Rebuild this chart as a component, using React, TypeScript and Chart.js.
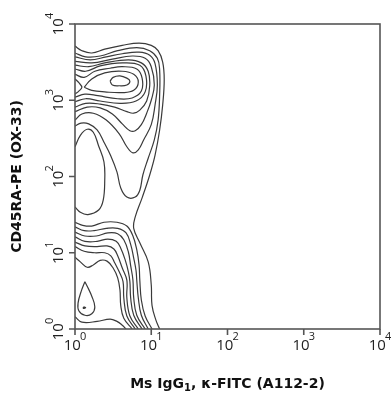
import { useEffect, useRef } from "react";
import { Chart, registerables } from "chart.js";

Chart.register(...registerables);

// Axis ticks (log10 decades) and labels
const xTickValues = [0, 1, 2, 3, 4];
const yTickValues = [0, 1, 2, 3, 4];
const tickBase = "10";
const tickExponents = ["0", "1", "2", "3", "4"];
const xTitleMain = "Ms IgG";
const xTitleSub = "1";
const xTitleRest = ", κ-FITC (A112-2)";
const yTitle = "CD45RA-PE (OX-33)";

// Contour lines, [log10 FITC, log10 PE]
const contourC1 = [[0,3.71],[0.09,3.65],[0.22,3.62],[0.39,3.67],[0.62,3.72],[0.84,3.75],[1.00,3.72],[1.09,3.65],[1.15,3.50],[1.17,3.27],[1.15,2.94],[1.11,2.61],[1.05,2.28],[0.98,2.02],[0.88,1.72],[0.79,1.47],[0.77,1.32],[0.85,1.13],[0.96,0.88],[1.00,0.58],[1.01,0.31],[1.06,0.12],[1.11,0]];
const contourD4 = [[0,3.62],[0.14,3.57],[0.33,3.58],[0.56,3.65],[0.81,3.69],[0.98,3.65],[1.08,3.55],[1.11,3.40],[1.11,3.07],[1.09,2.74],[1.04,2.48],[0.96,2.24],[0.89,2.02],[0.85,1.82],[0.79,1.73],[0.68,1.73],[0.60,1.85],[0.55,2.06],[0.47,2.27],[0.38,2.45],[0.29,2.61],[0.18,2.69],[0.08,2.70],[0,2.66]];
const contourD3 = [[0,3.57],[0.20,3.53],[0.41,3.57],[0.62,3.61],[0.84,3.63],[0.98,3.59],[1.05,3.48],[1.08,3.20],[1.05,2.94],[1.00,2.68],[0.90,2.48],[0.83,2.35],[0.76,2.31],[0.68,2.39],[0.58,2.56],[0.41,2.74],[0.24,2.83],[0.09,2.82],[0,2.74]];
const contourD2 = [[0,3.51],[0.22,3.49],[0.49,3.54],[0.75,3.58],[0.92,3.55],[1.00,3.44],[1.04,3.20],[1.00,3.00],[0.94,2.83],[0.87,2.68],[0.79,2.60],[0.72,2.60],[0.62,2.69],[0.49,2.82],[0.33,2.90],[0.16,2.91],[0,2.85]];
const contourD1 = [[0,3.46],[0.18,3.44],[0.39,3.49],[0.70,3.53],[0.87,3.49],[0.96,3.38],[0.98,3.19],[0.94,2.99],[0.85,2.87],[0.77,2.83],[0.68,2.85],[0.52,2.91],[0.33,2.95],[0.14,2.96],[0,2.91]];
const contourE2 = [[0,3.41],[0.14,3.38],[0.33,3.45],[0.62,3.49],[0.85,3.46],[0.93,3.32],[0.92,3.11],[0.80,2.99],[0.59,2.96],[0.33,2.99],[0.14,3.02],[0,2.98]];
const contourE1 = [[0,3.34],[0.12,3.30],[0.26,3.38],[0.46,3.42],[0.62,3.44],[0.81,3.41],[0.88,3.29],[0.87,3.12],[0.75,3.03],[0.56,3.02],[0.30,3.06],[0.13,3.08],[0,3.04]];
const contourR2 = [[0.12,3.17],[0.22,3.28],[0.39,3.36],[0.62,3.38],[0.77,3.34],[0.83,3.24],[0.77,3.13],[0.62,3.10],[0.39,3.11],[0.22,3.13],[0.12,3.17]];
const contourR1 = [[0.46,3.25],[0.50,3.30],[0.59,3.32],[0.68,3.29],[0.72,3.25],[0.68,3.20],[0.58,3.19],[0.49,3.20],[0.46,3.25]];
const contourL1 = [[0,3.28],[0.05,3.23],[0.09,3.17],[0.05,3.12],[0,3.08]];
const contourLobe = [[0,2.39],[0.07,2.54],[0.16,2.62],[0.24,2.58],[0.31,2.40],[0.38,2.19],[0.39,1.95],[0.37,1.69],[0.31,1.56],[0.17,1.50],[0.07,1.53],[0,1.60]];
const contourG1 = [[0,1.40],[0.10,1.36],[0.22,1.35],[0.38,1.40],[0.55,1.40],[0.68,1.35],[0.76,1.22],[0.81,1.04],[0.84,0.84],[0.85,0.64],[0.87,0.38],[0.92,0.17],[1.01,0]];
const contourG2 = [[0,1.34],[0.12,1.29],[0.25,1.29],[0.41,1.32],[0.56,1.32],[0.67,1.26],[0.73,1.11],[0.77,0.93],[0.80,0.77],[0.81,0.64],[0.83,0.41],[0.87,0.18],[0.96,0]];
const contourG3 = [[0,1.27],[0.13,1.22],[0.28,1.22],[0.43,1.26],[0.56,1.25],[0.64,1.17],[0.70,1.01],[0.73,0.83],[0.76,0.64],[0.77,0.41],[0.81,0.18],[0.92,0]];
const contourG4 = [[0,1.21],[0.13,1.15],[0.29,1.15],[0.43,1.18],[0.54,1.15],[0.60,1.06],[0.66,0.90],[0.70,0.75],[0.72,0.62],[0.73,0.41],[0.77,0.18],[0.88,0]];
const contourG5 = [[0,1.14],[0.13,1.09],[0.29,1.08],[0.42,1.09],[0.51,1.05],[0.56,0.96],[0.62,0.80],[0.68,0.64],[0.68,0.41],[0.72,0.17],[0.83,0]];
const contourG6 = [[0,1.08],[0.12,1.02],[0.26,1.00],[0.39,1.00],[0.47,0.96],[0.52,0.87],[0.58,0.75],[0.63,0.62],[0.64,0.41],[0.68,0.17],[0.79,0]];
const contourG7 = [[0,0.94],[0.07,0.88],[0.16,0.81],[0.24,0.84],[0.33,0.90],[0.42,0.89],[0.50,0.80],[0.56,0.67],[0.59,0.51],[0.60,0.31],[0.64,0.14],[0.75,0]];
const contourH = [[0,0.16],[0.09,0.09],[0.29,0.10],[0.46,0.13],[0.55,0.10],[0.62,0.05],[0.67,0]];
const contourT = [[0.13,0.62],[0.08,0.49],[0.04,0.34],[0.05,0.24],[0.13,0.18],[0.22,0.20],[0.26,0.29],[0.22,0.43],[0.17,0.54],[0.13,0.62]];
const contourDot = [[0.11,0.29],[0.14,0.28],[0.11,0.27],[0.11,0.29]];

const contours = [
  contourC1, contourD4, contourD3, contourD2, contourD1, contourE2, contourE1,
  contourR2, contourR1, contourL1, contourLobe,
  contourG1, contourG2, contourG3, contourG4, contourG5, contourG6, contourG7,
  contourH, contourT, contourDot,
];

const TICK_FONT = '"Open Sans", "DejaVu Sans", sans-serif';
const TITLE_FONT = '"DejaVu Sans", "Open Sans", sans-serif';

type Part = { t: string; size: number; dy: number; dx?: number; bold?: boolean; family: string };

function drawRich(ctx: CanvasRenderingContext2D, parts: Part[], cx: number, baseline: number) {
  const fontOf = (p: Part) => `${p.bold ? "bold " : ""}${p.size}px ${p.family}`;
  const widths = parts.map((p) => {
    ctx.font = fontOf(p);
    return ctx.measureText(p.t).width + (p.dx || 0);
  });
  const total = widths.reduce((a, b) => a + b, 0);
  let x = cx - total / 2;
  ctx.textAlign = "left";
  ctx.textBaseline = "alphabetic";
  parts.forEach((p, i) => {
    ctx.font = fontOf(p);
    ctx.fillText(p.t, x + (p.dx || 0), baseline + p.dy);
    x += widths[i];
  });
}

const framePlugin = {
  id: "frameAndLabels",
  afterDatasetsDraw(chart: any) {
    const { ctx, chartArea: a, scales } = chart;
    const xs = scales.x;
    const ys = scales.y;
    ctx.save();
    ctx.strokeStyle = "#555";
    ctx.lineWidth = 1.6;
    ctx.strokeRect(a.left, a.top, a.right - a.left, a.bottom - a.top);
    ctx.beginPath();
    xTickValues.forEach((v) => {
      const x = xs.getPixelForValue(v);
      ctx.moveTo(x, a.bottom);
      ctx.lineTo(x, a.bottom + 6);
    });
    yTickValues.forEach((v) => {
      const y = ys.getPixelForValue(v);
      ctx.moveTo(a.left - 6, y);
      ctx.lineTo(a.left, y);
    });
    ctx.stroke();

    ctx.fillStyle = "#222";
    const tickParts = (i: number): Part[] => [
      { t: tickBase, size: 15, dy: 0, family: TICK_FONT },
      { t: tickExponents[i], size: 11, dy: -10, dx: -1, family: TICK_FONT },
    ];
    xTickValues.forEach((v, i) => {
      const x = xs.getPixelForValue(v);
      drawRich(ctx, tickParts(i), x, a.bottom + 21);
    });
    yTickValues.forEach((v, i) => {
      const y = ys.getPixelForValue(v);
      ctx.save();
      ctx.translate(a.left - 12, y);
      ctx.rotate(-Math.PI / 2);
      drawRich(ctx, tickParts(i), 0, 0);
      ctx.restore();
    });

    ctx.fillStyle = "#111";
    const cx = (a.left + a.right) / 2;
    drawRich(ctx, [
      { t: xTitleMain, size: 14, dy: 0, bold: true, family: TITLE_FONT },
      { t: xTitleSub, size: 10, dy: 3, bold: true, family: TITLE_FONT },
      { t: xTitleRest, size: 14, dy: 0, bold: true, family: TITLE_FONT },
    ], cx, 388);
    ctx.save();
    ctx.translate(21, (a.top + a.bottom) / 2);
    ctx.rotate(-Math.PI / 2);
    drawRich(ctx, [{ t: yTitle, size: 14, dy: 0, bold: true, family: TITLE_FONT }], 0, 0);
    ctx.restore();
    ctx.restore();
  },
};

export default function App() {
  const ref = useRef<HTMLCanvasElement | null>(null);
  useEffect(() => {
    document.body.style.margin = "0";
    const canvas = ref.current;
    if (!canvas) return;
    const chart = new Chart(canvas, {
      type: "scatter",
      data: {
        datasets: contours.map((c) => ({
          data: c.map(([x, y]) => ({ x, y })),
          showLine: true,
          pointRadius: 0,
          borderColor: "#3a3a3a",
          borderWidth: 1.2,
          tension: 0.4,
          fill: false,
        })),
      },
      options: {
        responsive: false,
        animation: false,
        devicePixelRatio: 1,
        layout: { padding: { left: 75, top: 24, right: 11, bottom: 67 } },
        plugins: { legend: { display: false }, tooltip: { enabled: false } },
        events: [],
        scales: {
          x: { type: "linear", min: 0, max: 4, display: false },
          y: { type: "linear", min: 0, max: 4, display: false },
        },
      },
      plugins: [framePlugin],
    });
    return () => chart.destroy();
  }, []);
  return (
    <canvas ref={ref} width={391} height={396} style={{ display: "block", width: 391, height: 396 }} />
  );
}
